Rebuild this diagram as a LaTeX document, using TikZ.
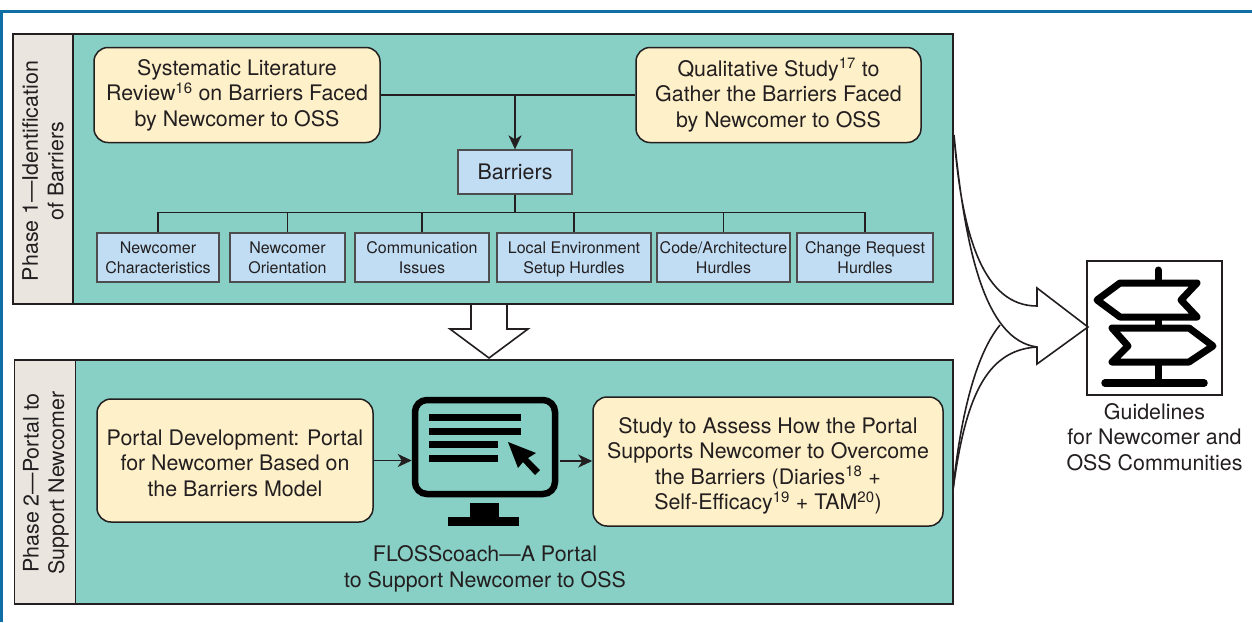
\documentclass[tikz,border=0pt]{standalone}
\usepackage{fontspec}
\setmainfont{TeX Gyre Heros}
\usetikzlibrary{arrows.meta, positioning}
\definecolor{framecolor}{RGB}{15, 110, 165}
\definecolor{panelcolor}{RGB}{136, 208, 197}
\definecolor{stripcolor}{RGB}{234, 229, 223}
\definecolor{creamcolor}{RGB}{254, 240, 200}
\definecolor{bluecolor}{RGB}{192, 221, 243}
\definecolor{inkcolor}{RGB}{35, 31, 32}
\tikzset{
  panel/.style={draw=inkcolor, fill=panelcolor, line width=1.8pt, inner sep=0pt},
  strip/.style={draw=inkcolor, fill=stripcolor, line width=1.8pt, inner sep=0pt},
  stripfont/.style={rotate=90, align=center, text=inkcolor, font=\fontsize{21.4}{25.5}\selectfont},
  bigbox/.style={draw=inkcolor, fill=creamcolor, line width=1.5pt, rounded corners=14pt, align=center, inner sep=0pt, text=inkcolor, font=\fontsize{21.4}{25.5}\selectfont, execute at begin node={\rule{0pt}{24pt}}, execute at end node={\rule[-4.5pt]{0pt}{4.5pt}}},
  barbox/.style={draw=inkcolor!80, fill=bluecolor, line width=1.3pt, align=center, inner sep=0pt, text=inkcolor, font=\fontsize{21.4}{25.5}\selectfont},
  smallbox/.style={draw=inkcolor!80, fill=bluecolor, line width=1.2pt, align=center, inner sep=0pt, minimum height=49pt, text=inkcolor, font=\fontsize{16}{20}\selectfont},
  link/.style={draw=inkcolor, line width=1.6pt},
  linkarrow/.style={link, -{Stealth[length=14pt, width=13pt, inset=4pt]}},
  blockarrow/.style={draw=inkcolor, fill=white, line width=1.6pt, line join=miter},
  signline/.style={draw=black, fill=white, line width=7pt, line join=round, line cap=round},
  plaintext/.style={align=center, text=inkcolor, font=\fontsize{21.4}{25.5}\selectfont}
}
\begin{document}
\begin{tikzpicture}[x=1pt, y=-1pt]
  \useasboundingbox (0,0) rectangle (1252,622);
  % Frame
  \draw[framecolor, line width=3pt] (1.5,622) -- (1.5,11) -- (1252,11);

  % Phase 1
  \node[panel, minimum width=880pt, minimum height=270pt] (teal1) at (513,169) {};
  \node[strip, minimum width=60pt, minimum height=270pt] (strip1) at (43,169) {};
  \node[stripfont] (phase1) at (43,171) {Phase 1---Identification\\of Barriers};
  \node[bigbox, minimum width=286pt, minimum height=95pt] (review) at (237,95) {Systematic Literature\\Review\textsuperscript{16} on Barriers Faced\\by Newcomer to OSS};
  \node[bigbox, minimum width=285pt, minimum height=95pt] (study) at (778.5,95) {Qualitative Study\textsuperscript{17} to\\Gather the Barriers Faced\\by Newcomer to OSS};
  \node[barbox, minimum width=114pt, minimum height=44pt] (barriers) at (515,172) {Barriers};
  \node[smallbox, minimum width=122pt] (characteristics) at (158,257.5) {Newcomer\\Characteristics};
  \node[smallbox, minimum width=115pt] (orientation) at (287.5,257.5) {Newcomer\\Orientation};
  \node[smallbox, minimum width=134pt] (communication) at (422,257.5) {Communication\\Issues};
  \node[smallbox, minimum width=154pt] (environment) at (574,257.5) {Local Environment\\\smash{Setup Hurdles}};
  \node[smallbox, minimum width=133pt] (architecture) at (723.5,257.5) {Code/Architecture\\Hurdles};
  \node[smallbox, minimum width=136pt] (change) at (865,257.5) {Change Request\\Hurdles};

  % Connecting lines
  \coordinate (join) at (515,95);
  \draw[link] (review.east) -- (study.west);
  \draw[linkarrow] (join) -- (barriers.north);
  \foreach \target in {characteristics, orientation, communication, environment, architecture, change}
    \draw[link] (barriers.south) -- ++(0,18) -| (\target.north);

  % Phase 2
  \node[panel, minimum width=878pt, minimum height=244pt] (teal2) at (514,482) {};
  \node[strip, minimum width=61pt, minimum height=244pt] (strip2) at (45,482) {};
  \node[stripfont] (phase2) at (46,483) {Phase 2---Portal to\\Support Newcomer};
  \node[bigbox, minimum width=276pt, minimum height=123pt] (portal) at (235,460.5) {\rule{0pt}{24.6pt}Portal Development: Portal\\for Newcomer Based on\\the Barriers Model};
  \node[bigbox, minimum width=350pt, minimum height=129pt] (assess) at (768,461.5) {\rule{0pt}{24.6pt}Study to Assess How the Portal\\Supports Newcomer to Overcome\\the Barriers (Diaries\textsuperscript{18} +\\Self-Efficacy\textsuperscript{19} + TAM\textsuperscript{20})};

  % Monitor
  \node[draw=black, line width=6.5pt, rounded corners=12pt, minimum width=140pt, minimum height=94pt, inner sep=0pt] (monitor) at (485,447) {};
  \foreach \a/\b/\y in {429/521/417, 429/521/431, 429/498/444, 429/498/458}
    \fill[black] (\a,\y-3.5) rectangle (\b,\y+3.5);
  \fill[black] (508,442) -- (536,453) -- (528,458) -- (540,470) -- (535,475) -- (523,462) -- (518,468) -- cycle;
  \fill[black] (470,503) rectangle (499,517);
  \fill[black] (448,517) rectangle (519,526);
  \node[plaintext] (flosscoach) at (485,569) {FLOSScoach---A Portal\\to Support Newcomer to OSS};
  \coordinate (monitorout) at (560,461);
  \draw[linkarrow] (portal.east) -- (portal.east -| monitor.west);
  \draw[linkarrow] (monitorout) -- (monitorout -| assess.west);

  % Arrow between the phases
  \draw[blockarrow] (471,305) -- (471,329) -- (450,329) -- (489,358) -- (528,329) -- (507,329) -- (507,305);

  % Arrow to the guidelines
  \draw[blockarrow, fill=none] (954,135) .. controls (962,240) and (985,306) .. (1037,306) -- (1037,288) -- (1088,327) -- (1037,364) -- (1037,347) .. controls (985,340) and (965,250) .. (954,135);
  \draw[blockarrow, fill=none] (953,490) .. controls (965,400) and (985,350) .. (1037,347);
  \draw[blockarrow, fill=none] (953,490) .. controls (960,420) and (975,355) .. (1000,325);

  % Signpost
  \node[draw=inkcolor, line width=1.6pt, minimum width=135pt, minimum height=134pt, inner sep=0pt] (signbox) at (1154.5,328) {};
  \draw[black, line width=7pt, line cap=round] (1158,270) -- (1158,383);
  \draw[black, line width=7.5pt, line cap=round] (1105,383) -- (1204,383);
  \draw[signline] (1097,300) -- (1120,283) -- (1197,283) -- (1181,300) -- (1197,317) -- (1120,317) -- cycle;
  \draw[signline] (1112,328) -- (1189,328) -- (1213,346) -- (1189,362) -- (1112,362) -- (1128,346) -- cycle;
  \node[plaintext, below=4pt of signbox] (guidelines) {Guidelines\\for Newcomer and\\OSS Communities};
\end{tikzpicture}
\end{document}
